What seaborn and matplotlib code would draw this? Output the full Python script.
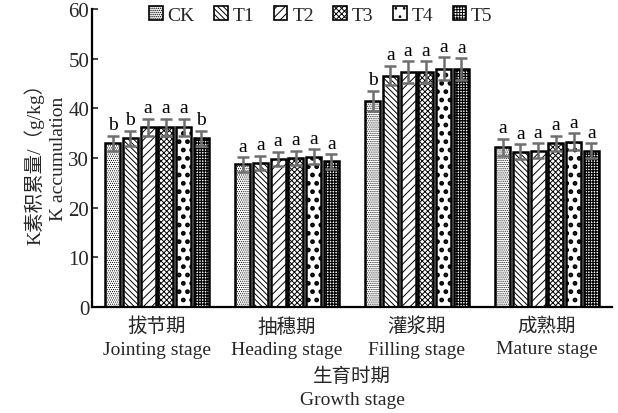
import numpy as np
import pandas as pd
import matplotlib
matplotlib.use("Agg")
import matplotlib.pyplot as plt
import seaborn as sns
from matplotlib.patches import Patch

sns.set_theme(style="white")
plt.rcParams['font.family'] = ['Liberation Serif', 'Noto Sans CJK SC']
plt.rcParams['hatch.linewidth'] = 0.7

stages = ["拔节期\nJointing stage", "抽穗期\nHeading stage", "灌浆期\nFilling stage", "成熟期\nMature stage"]
treatments = ["CK", "T1", "T2", "T3", "T4", "T5"]

ck = [33.0, 28.7, 41.5, 32.2]
t1 = [34.0, 29.0, 46.6, 31.3]
t2 = [36.2, 29.8, 47.3, 31.5]
t3 = [36.2, 30.0, 47.3, 33.0]
t4 = [36.2, 30.3, 48.0, 33.3]
t5 = [34.0, 29.3, 47.9, 31.5]

ck_err = [1.5, 1.5, 2.0, 1.7]
t1_err = [1.5, 1.5, 2.0, 1.5]
t2_err = [1.7, 1.5, 2.2, 1.5]
t3_err = [1.7, 1.5, 2.2, 1.5]
t4_err = [1.7, 1.5, 2.3, 1.7]
t5_err = [1.5, 1.5, 2.2, 1.5]

ck_sig = ["b", "a", "b", "a"]
t1_sig = ["b", "a", "a", "a"]
t2_sig = ["a", "a", "a", "a"]
t3_sig = ["a", "a", "a", "a"]
t4_sig = ["a", "a", "a", "a"]
t5_sig = ["b", "a", "a", "a"]

values = [ck, t1, t2, t3, t4, t5]
errors = [ck_err, t1_err, t2_err, t3_err, t4_err, t5_err]
sigs = [ck_sig, t1_sig, t2_sig, t3_sig, t4_sig, t5_sig]

rows = []
for tr, vals in zip(treatments, values):
    for st, v in zip(stages, vals):
        rows.append({"stage": st, "treatment": tr, "value": v})
df = pd.DataFrame(rows)

hatches = ["........", "\\\\\\\\\\\\", "////", "xxxxxx", "..", "++++++"]
hatch_lw = [0.5, 0.7, 0.7, 0.7, 2.2, 0.9]

fig = plt.figure(figsize=(6.18, 4.14), dpi=100)
ax = fig.add_axes([92 / 618, 106 / 414, 520 / 618, 298 / 414])

sns.barplot(data=df, x="stage", y="value", hue="treatment", order=stages,
            hue_order=treatments, errorbar=None, width=0.82, gap=0.16,
            palette=["white"] * 6, edgecolor="black",
            linewidth=1.8, ax=ax, legend=False)


def style_patch(p, i):
    p.set_hatch(hatches[i])
    if hasattr(p, "set_hatch_linewidth"):
        p.set_hatch_linewidth(hatch_lw[i])


bar_containers = list(ax.containers)
for i, cont in enumerate(bar_containers):
    for j, bar in enumerate(cont):
        style_patch(bar, i)
        bar.set_facecolor("white")
        bar.set_edgecolor("black")
        cx = bar.get_x() + bar.get_width() / 2
        h = bar.get_height()
        e = errors[i][j]
        ax.errorbar(cx, h, yerr=e, color="#6e6e6e", capsize=4, capthick=1.8,
                    elinewidth=1.8, zorder=5)
        ax.text(cx, h + e + 0.5, sigs[i][j], ha="center", va="bottom",
                fontsize=14, color="black")

# legend handles as hatched squares
handles = []
for i in range(6):
    p = Patch(facecolor="white", edgecolor="black", linewidth=1.2)
    style_patch(p, i)
    handles.append(p)
ax.legend(handles, treatments, loc="upper center", bbox_to_anchor=(0.44, 1.035),
          ncol=6, frameon=False, fontsize=14, handlelength=0.7, handleheight=0.7,
          handletextpad=0.25, columnspacing=1.0, borderaxespad=0)

ax.set_ylim(0, 60)
ax.set_yticks([0, 10, 20, 30, 40, 50, 60])
ax.set_xlim(-0.5, 3.5)
ax.tick_params(axis="y", direction="in", length=4, width=1.2, labelsize=15, pad=2, left=True)
ax.tick_params(axis="x", length=0, labelsize=14, pad=7)
for lab in ax.get_xticklabels():
    lab.set_linespacing(1.45)

for side in ["top", "right"]:
    ax.spines[side].set_visible(False)
for side in ["left", "bottom"]:
    ax.spines[side].set_color("black")
    ax.spines[side].set_linewidth(1.6)

ax.set_xlabel("生育时期\nGrowth stage", fontsize=14, linespacing=1.45, labelpad=6)
ax.set_ylabel("K素积累量/（g/kg）\nK accumulation", fontsize=14, linespacing=1.45, labelpad=1)

fig.savefig("out.png", dpi=100)
